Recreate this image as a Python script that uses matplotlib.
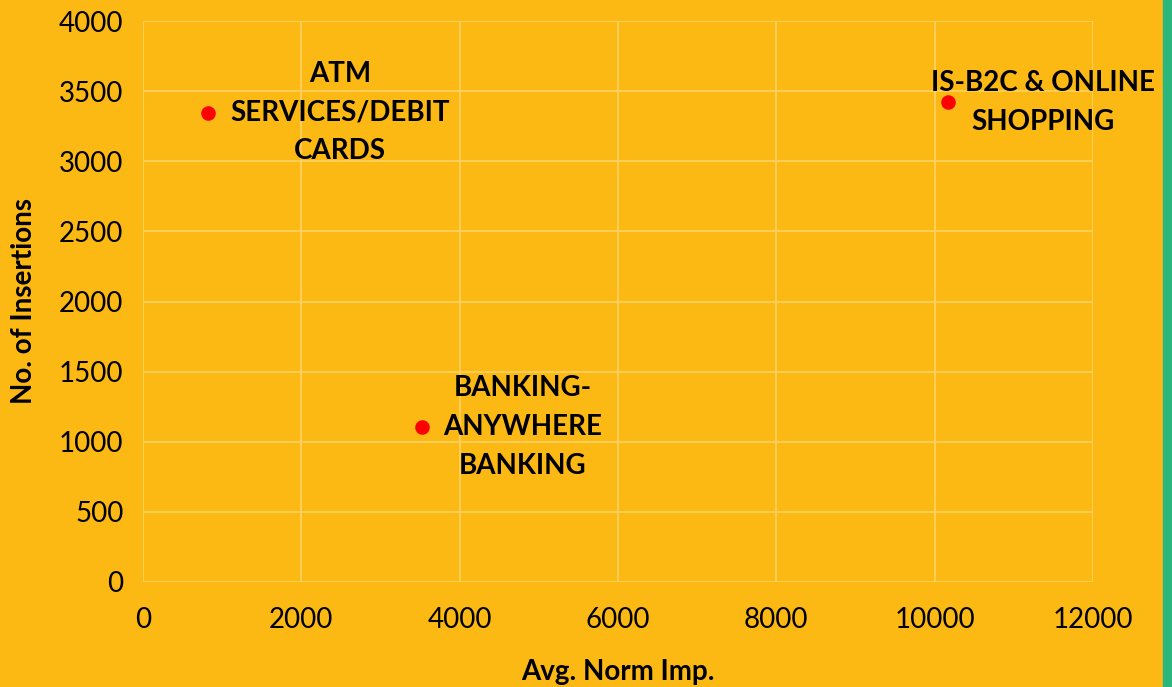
import matplotlib
matplotlib.use("Agg")
import matplotlib.pyplot as plt
from matplotlib.patches import Rectangle

# data
names = ["ATM\nSERVICES/DEBIT\nCARDS", "BANKING-\nANYWHERE\nBANKING", "IS-B2C & ONLINE\nSHOPPING"]
avg_norm_imp = [820, 3520, 10170]
insertions = [3345, 1105, 3420]
label_offsets = [(132, 0), (101, 0), (95, 0)]  # pixels, text centre relative to point

xticks = [0, 2000, 4000, 6000, 8000, 10000, 12000]
yticks = [0, 500, 1000, 1500, 2000, 2500, 3000, 3500, 4000]

bg = "#FDB913"
grid_col = "#FCD160"

plt.rcParams["font.family"] = ["Lato", "DejaVu Sans"]

fig = plt.figure(figsize=(11.72, 6.87), dpi=100, facecolor=bg)
ax = fig.add_axes([143 / 1172, 1 - 582 / 687, 950 / 1172, 561 / 687])
ax.set_facecolor(bg)

# green strip on the right edge
fig.patches.append(Rectangle((1163 / 1172, 0), 9 / 1172, 1, transform=fig.transFigure,
                             color="#2BB67D", zorder=0))

ax.scatter(avg_norm_imp, insertions, s=110, color="#FF0000", zorder=3, linewidths=0)

for x, y, name, off in zip(avg_norm_imp, insertions, names, label_offsets):
    ax.annotate(name, (x, y), xytext=off, textcoords="offset pixels",
                ha="center", va="center", multialignment="center",
                fontsize=20, fontweight="bold", color="black", linespacing=1.6)

ax.set_xlim(0, 12000)
ax.set_ylim(0, 4000)
ax.set_xticks(xticks)
ax.set_yticks(yticks)
ax.set_xticklabels([str(v) for v in xticks], fontsize=20)
ax.set_yticklabels([str(v) for v in yticks], fontsize=20)
ax.tick_params(length=0, pad=14, colors="black")
ax.tick_params(axis="x", pad=18)

ax.grid(True, color=grid_col, linewidth=1.3)
ax.set_axisbelow(True)
for s in ax.spines.values():
    s.set_visible(False)

ax.set_xlabel("Avg. Norm Imp.", fontsize=20, fontweight="bold", labelpad=19)
ax.set_ylabel("No. of Insertions", fontsize=20, fontweight="bold", labelpad=16)

fig.savefig("out.png", dpi=100, facecolor=bg)
